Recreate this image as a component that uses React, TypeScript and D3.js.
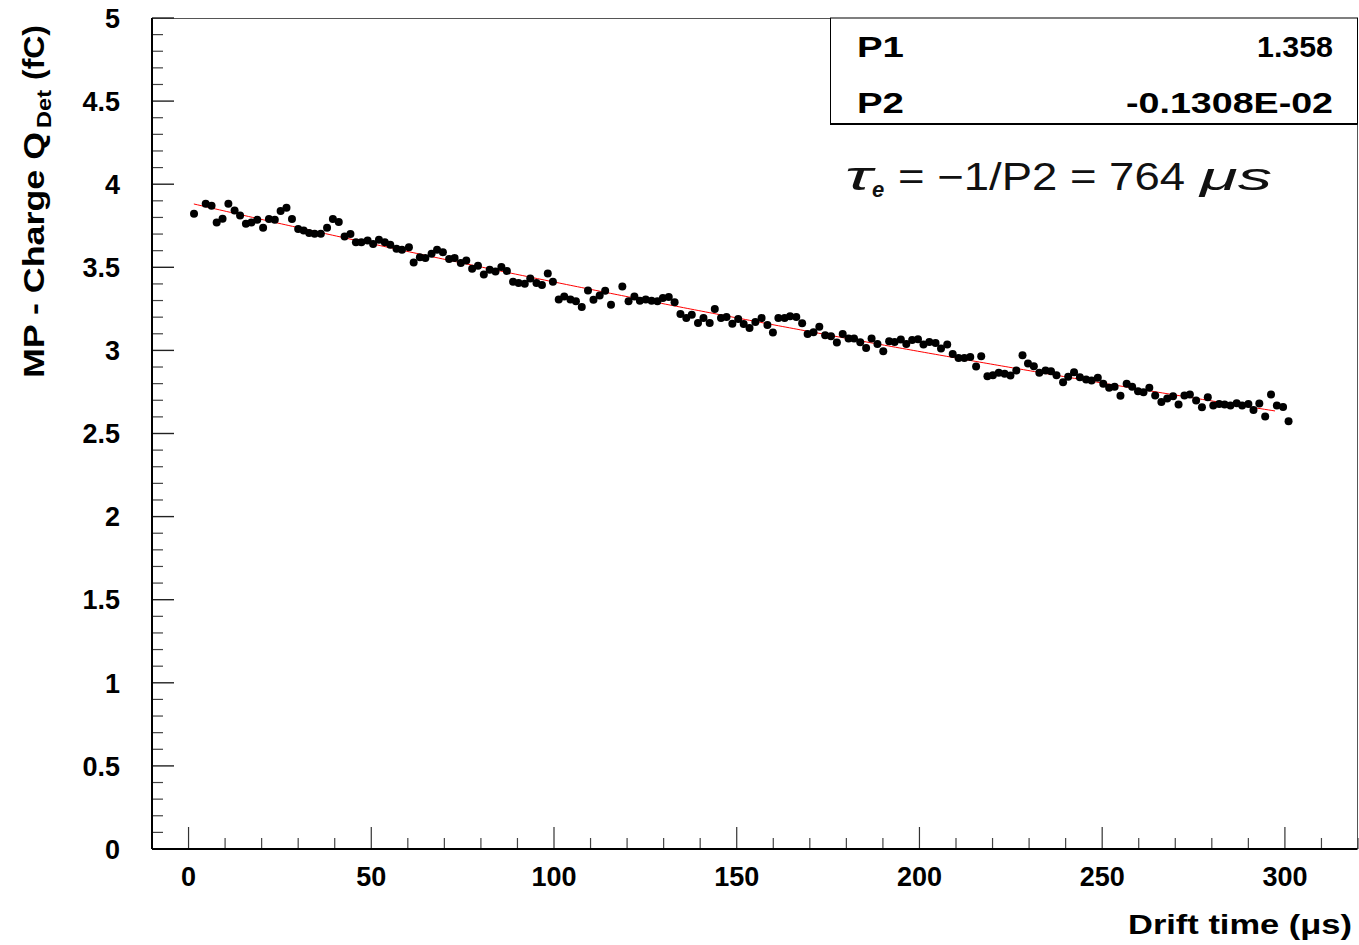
import React from 'react';
import * as d3 from 'd3';

// drift time (us) and most-probable charge (fC)
const driftTime = [
  1.5, 4.7, 6.3, 7.7, 9.3, 10.9, 12.6, 14.1, 15.7, 17.2, 18.8, 20.4, 22.0, 23.6, 25.2, 26.8, 28.3, 30.0, 31.5, 33.0,
  34.5, 36.2, 37.9, 39.5, 41.1, 42.7, 44.3, 45.8, 47.3, 49.0, 50.5, 52.1, 53.7, 55.2, 56.9, 58.4, 60.3, 61.6, 63.3, 64.8,
  66.5, 68.0, 69.6, 71.3, 72.8, 74.5, 76.0, 77.6, 79.2, 80.8, 82.4, 84.0, 85.6, 87.1, 88.8, 90.3, 92.0, 93.5, 95.2, 96.7,
  98.3, 99.7,
  101.3, 102.8, 104.5, 106.0, 107.6, 109.3, 110.8, 112.5, 114.0, 115.6, 118.7, 120.4, 122.0, 123.5, 125.1, 126.7, 128.3,
  129.8, 131.4, 133.0, 134.6, 136.2, 137.7, 139.4, 140.9, 142.6, 144.0, 145.7, 147.2, 148.8, 150.4, 151.9, 153.5, 155.1,
  156.8, 158.4, 159.9, 161.4, 163.1, 164.6, 166.3, 167.9, 169.4, 171.0, 172.6, 174.2, 175.8, 177.4, 179.0, 180.6, 182.1,
  183.8, 185.4, 186.9, 188.5, 190.1, 191.7, 193.2, 194.9, 196.4, 198.0, 199.6, 201.1,
  202.7, 204.4, 205.9, 207.6, 209.1, 210.7, 212.3, 213.9, 215.5, 216.9, 218.6, 220.1, 221.7, 223.3, 224.9, 226.5, 228.2,
  229.7, 231.3, 232.8, 234.5, 236.0, 237.5, 239.3, 240.7, 242.3, 243.9, 245.6, 247.1, 248.8, 250.3, 251.9, 253.4, 255.0,
  256.7, 258.2, 259.8, 261.3, 262.9, 264.5, 266.2, 267.8, 269.4, 270.9, 272.5, 274.0, 275.7, 277.3, 278.9, 280.4, 282.0,
  283.5, 285.1, 286.8, 288.3, 290.0, 291.4, 293.0, 294.6, 296.2, 297.8, 299.5, 301.0,
];

const charge = [
  3.822, 3.882, 3.870, 3.770, 3.792, 3.882, 3.842, 3.812, 3.762, 3.770, 3.786, 3.738, 3.790, 3.786, 3.838, 3.858, 3.790,
  3.730, 3.722, 3.706, 3.702, 3.702, 3.738, 3.790, 3.772, 3.686, 3.700, 3.650, 3.650, 3.662, 3.640, 3.666, 3.650, 3.636,
  3.612, 3.606, 3.620, 3.529, 3.560, 3.556, 3.582, 3.606, 3.590, 3.550, 3.556, 3.526, 3.541, 3.492, 3.510, 3.456, 3.486,
  3.475, 3.502, 3.478, 3.413, 3.406, 3.401, 3.433, 3.406, 3.394, 3.462, 3.413,
  3.307, 3.325, 3.307, 3.295, 3.261, 3.361, 3.305, 3.331, 3.359, 3.275, 3.385, 3.295, 3.325, 3.299, 3.307, 3.299, 3.295,
  3.315, 3.321, 3.289, 3.219, 3.195, 3.215, 3.165, 3.195, 3.165, 3.249, 3.195, 3.201, 3.161, 3.189, 3.159, 3.135, 3.171,
  3.195, 3.153, 3.107, 3.195, 3.195, 3.205, 3.201, 3.163, 3.099, 3.109, 3.143, 3.091, 3.085, 3.047, 3.099, 3.071, 3.071,
  3.049, 3.015, 3.071, 3.039, 2.995, 3.055, 3.051, 3.065, 3.039, 3.063, 3.067, 3.035,
  3.051, 3.045, 3.011, 3.035, 2.979, 2.955, 2.955, 2.961, 2.903, 2.965, 2.844, 2.850, 2.865, 2.859, 2.849, 2.879, 2.971,
  2.921, 2.904, 2.865, 2.879, 2.874, 2.850, 2.808, 2.841, 2.868, 2.838, 2.825, 2.819, 2.835, 2.799, 2.775, 2.781, 2.727,
  2.800, 2.781, 2.754, 2.748, 2.775, 2.728, 2.690, 2.710, 2.724, 2.674, 2.728, 2.734, 2.698, 2.658, 2.718, 2.668, 2.678,
  2.674, 2.668, 2.682, 2.668, 2.678, 2.642, 2.680, 2.602, 2.734, 2.668, 2.660, 2.574,
];

// fit: Q = exp(P1 + P2 * t)
const fitP1 = 1.358;
const fitP2 = -0.1308e-2;
const fitRange = [1.45, 297.3];

const xTicks = [0, 50, 100, 150, 200, 250, 300];
const xTickLabels = ['0', '50', '100', '150', '200', '250', '300'];
const yTicks = [0, 0.5, 1, 1.5, 2, 2.5, 3, 3.5, 4, 4.5, 5];
const yTickLabels = ['0', '0.5', '1', '1.5', '2', '2.5', '3', '3.5', '4', '4.5', '5'];

const statNames = ['P1', 'P2'];
const statValues = ['1.358', '-0.1308E-02'];

const W = 1359;
const H = 945;
const font = '"Liberation Sans", Arial, Helvetica, sans-serif';

export default function App() {
  const x = d3.scaleLinear().domain([-10, 320]).range([152, 1358]);
  const y = d3.scaleLinear().domain([0, 5]).range([849, 18]);

  const xMinor = d3.range(-10, 321, 10).filter((v) => v % 50 !== 0);
  const yMinor = d3.range(0, 51, 1).map((v) => v / 10).filter((v) => Math.round(v * 10) % 5 !== 0);

  const fitT = d3.range(fitRange[0], fitRange[1], 1).concat([fitRange[1]]);
  const fitLine = d3
    .line<number>()
    .x((t) => x(t))
    .y((t) => y(Math.exp(fitP1 + fitP2 * t)));

  const left = x(-10);
  const right = 1357.5;
  const top = y(5);
  const bottom = y(0);

  return (
    <svg
      width={W}
      height={H}
      style={{ position: 'absolute', left: 0, top: 0, background: '#fff' }}
      fontFamily={font}
    >
      <rect x={0} y={0} width={W} height={H} fill="#fff" />

      {/* frame */}
      <line x1={left} x2={right} y1={top + 0.5} y2={top + 0.5} stroke="#555" strokeWidth={1} />
      <line x1={right} x2={right} y1={top} y2={bottom} stroke="#555" strokeWidth={1} />

      {/* x ticks */}
      {xMinor.map((v) => (
        <line key={'xm' + v} x1={x(v)} x2={x(v)} y1={bottom} y2={bottom - 11} stroke="#444" strokeWidth={1.2} />
      ))}
      {xTicks.map((v) => (
        <line key={'xM' + v} x1={x(v)} x2={x(v)} y1={bottom} y2={bottom - 22} stroke="#333" strokeWidth={1.2} />
      ))}
      {/* y ticks */}
      {yMinor.map((v) => (
        <line key={'ym' + v} x1={left} x2={left + 11} y1={y(v)} y2={y(v)} stroke="#444" strokeWidth={1.2} />
      ))}
      {yTicks.map((v) => (
        <line key={'yM' + v} x1={left} x2={left + 22} y1={y(v)} y2={y(v)} stroke="#222" strokeWidth={1.4} />
      ))}

      {/* axes */}
      <line x1={left} x2={right} y1={bottom} y2={bottom} stroke="#000" strokeWidth={2} />
      <line x1={left} x2={left} y1={top} y2={bottom} stroke="#000" strokeWidth={2} />

      {/* tick labels */}
      {xTicks.map((v, i) => (
        <text key={'xl' + v} x={x(v)} y={886} textAnchor="middle" fontSize={27} fontWeight="bold">
          {xTickLabels[i]}
        </text>
      ))}
      {yTicks.map((v, i) => (
        <text key={'yl' + v} x={120} y={y(v)} dy="0.36em" textAnchor="end" fontSize={27} fontWeight="bold">
          {yTickLabels[i]}
        </text>
      ))}

      {/* axis titles */}
      <text x={1128} y={934} fontSize={28} fontWeight="bold" textLength={224} lengthAdjust="spacingAndGlyphs">
        Drift time (μs)
      </text>
      <g transform="translate(44,0) rotate(-90)" fontWeight="bold">
        <text x={-378} y={0} fontSize={30} textLength={246} lengthAdjust="spacingAndGlyphs">
          MP - Charge Q
        </text>
        <text x={-128} y={7} fontSize={20} textLength={38} lengthAdjust="spacingAndGlyphs">
          Det
        </text>
        <text x={-80} y={0} fontSize={30} textLength={55} lengthAdjust="spacingAndGlyphs">
          (fC)
        </text>
      </g>

      {/* fit */}
      <path d={fitLine(fitT) || ''} fill="none" stroke="#ff0000" strokeWidth={1} />

      {/* data points */}
      {driftTime.map((t, i) => (
        <circle key={'p' + i} cx={x(t)} cy={y(charge[i])} r={4} fill="#000" />
      ))}

      {/* stats box */}
      <rect x={830.5} y={top} width={right - 830.5} height={106} fill="#fff" stroke="#000" strokeWidth={1} />
      <line x1={830} x2={right} y1={top + 106} y2={top + 106} stroke="#000" strokeWidth={2} />
      {statNames.map((n, i) => (
        <g key={n} fontSize={30} fontWeight="bold">
          <text x={857} y={57 + i * 56} textLength={47} lengthAdjust="spacingAndGlyphs">
            {n}
          </text>
          <text
            x={i === 0 ? 1257 : 1126}
            y={57 + i * 56}
            textLength={i === 0 ? 76 : 207}
            lengthAdjust="spacingAndGlyphs"
          >
            {statValues[i]}
          </text>
        </g>
      ))}

      {/* lifetime annotation */}
      <g fill="#111">
        <text x={845} y={190} fontSize={40} fontStyle="italic" textLength={27} lengthAdjust="spacingAndGlyphs">
          τ
        </text>
        <text x={872} y={197} fontSize={22} fontStyle="italic" fontWeight="bold">
          e
        </text>
        <text x={898} y={190} fontSize={38} textLength={287} lengthAdjust="spacingAndGlyphs">
          = −1/P2 = 764
        </text>
        <text x={1200} y={190} fontSize={38} fontStyle="italic" textLength={72} lengthAdjust="spacingAndGlyphs">
          μs
        </text>
      </g>
    </svg>
  );
}
